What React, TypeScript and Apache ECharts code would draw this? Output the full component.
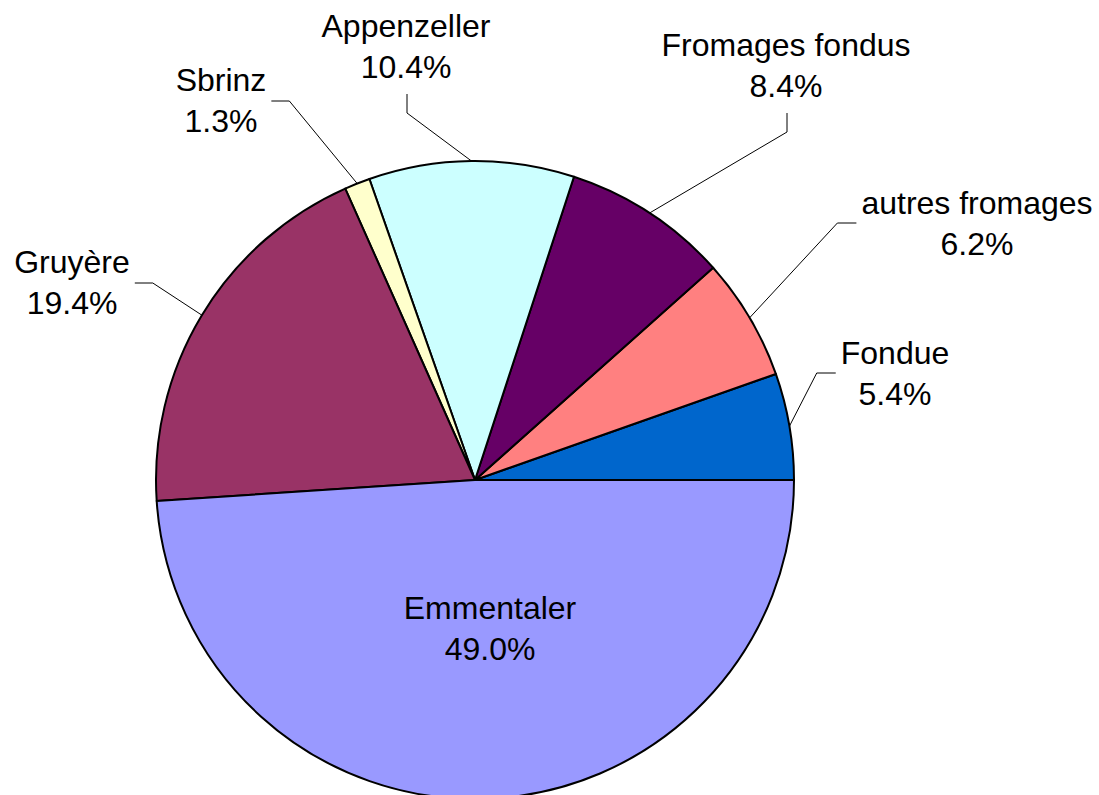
import React, { useEffect, useRef } from "react";
import * as echarts from "echarts";

// ---- data ----
const categories = ["Fondue", "autres fromages", "Fromages fondus", "Appenzeller", "Sbrinz", "Gruyère", "Emmentaler"];
const shares = [5.4, 6.2, 8.4, 10.4, 1.3, 19.4, 49.0];
const sliceColors = ["#0066CC", "#FF8080", "#660066", "#CCFFFF", "#FFFFCC", "#993366", "#9999FF"];

// ---- label placement (layout only) ----
type Side = "top" | "labelLeft" | "labelRight" | "inside";
const labelPlacement: Record<string, { x: number; y: number; side: Side }> = {
  "Fondue": { x: 895, y: 373, side: "labelRight" },
  "autres fromages": { x: 977, y: 223, side: "labelRight" },
  "Fromages fondus": { x: 786, y: 65, side: "top" },
  "Appenzeller": { x: 406, y: 46, side: "top" },
  "Sbrinz": { x: 221, y: 100, side: "labelLeft" },
  "Gruyère": { x: 72, y: 282, side: "labelLeft" },
  "Emmentaler": { x: 490, y: 628, side: "inside" },
};

export default function App() {
  const ref = useRef<HTMLDivElement>(null);
  useEffect(() => {
    if (!ref.current) return;
    const chart = echarts.init(ref.current, undefined, { renderer: "svg" });
    const data = categories.map((name, i) => {
      const item: any = { name, value: shares[i], itemStyle: { color: sliceColors[i] } };
      if (labelPlacement[name].side === "inside") {
        item.label = { position: "inside" };
        item.labelLine = { show: false };
      }
      return item;
    });
    chart.setOption({
      animation: false,
      backgroundColor: "#ffffff",
      series: [
        {
          type: "pie",
          center: [475, 480],
          radius: 319,
          startAngle: 0,
          clockwise: false,
          avoidLabelOverlap: false,
          silent: true,
          itemStyle: { borderColor: "#000000", borderWidth: 2 },
          label: {
            show: true,
            position: "outside",
            color: "#000000",
            fontFamily: "'Liberation Sans', Arial, sans-serif",
            fontSize: 32,
            lineHeight: 41,
            align: "center",
            formatter: (p: any) => `${p.name}\n${Number(p.value).toFixed(1)}%`,
          },
          labelLine: {
            show: true,
            length: 20,
            length2: 20,
            lineStyle: { color: "#000000", width: 1 },
          },
          labelLayout: (p: any) => {
            const name = categories[p.dataIndex];
            const pl = labelPlacement[name];
            const out: any = { x: pl.x, y: pl.y, align: "center", verticalAlign: "middle" };
            const pts = p.labelLinePoints;
            if (pl.side !== "inside" && pts && pts.length) {
              const a = pts[0];
              const halfW = p.labelRect ? p.labelRect.width / 2 : 50;
              if (pl.side === "top") {
                out.labelLinePoints = [a, [pl.x + 1, pl.y + 67], [pl.x + 1, pl.y + 48]];
              } else if (pl.side === "labelLeft") {
                const edge = pl.x + halfW;
                out.labelLinePoints = [a, [edge + 23, pl.y + 1], [edge + 5, pl.y + 1]];
              } else {
                const edge = pl.x - halfW;
                out.labelLinePoints = [a, [edge - 24, pl.y], [edge - 5, pl.y]];
              }
            }
            return out;
          },
          data,
        },
      ],
    });
    return () => chart.dispose();
  }, []);
  return (
    <div
      ref={ref}
      style={{ position: "absolute", left: 0, top: 0, width: 1099, height: 795, background: "#fff" }}
    />
  );
}
